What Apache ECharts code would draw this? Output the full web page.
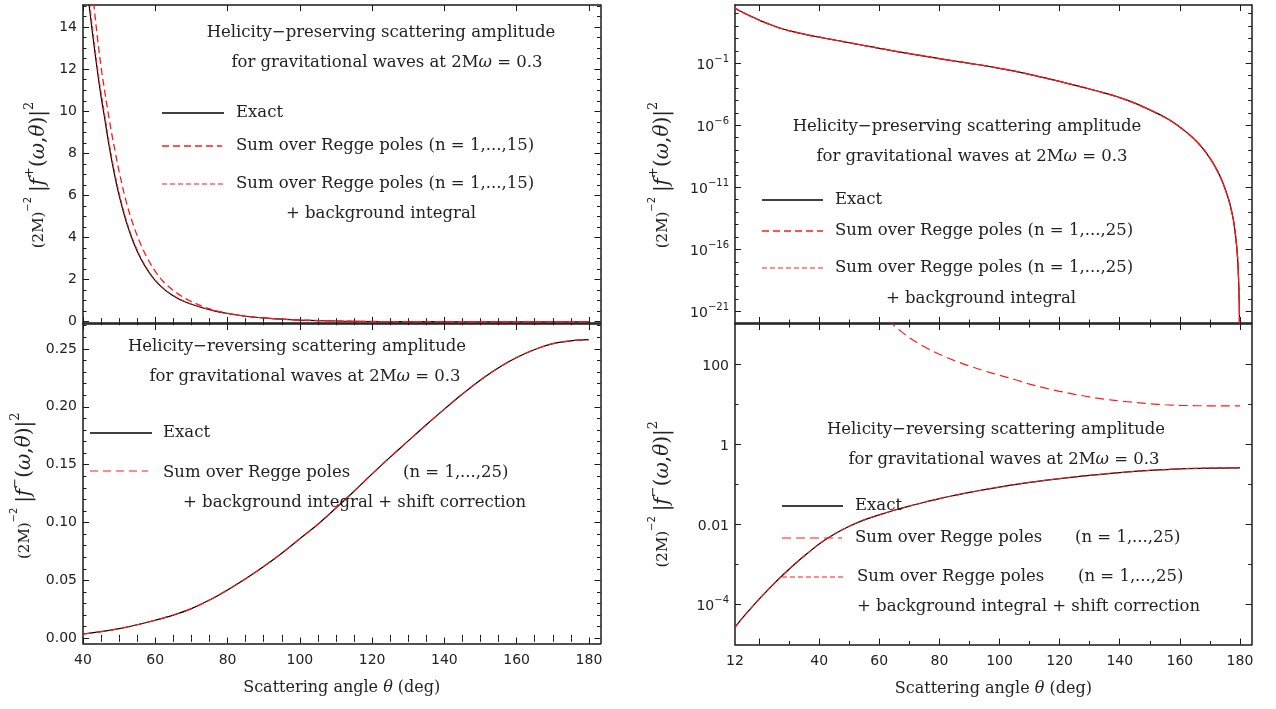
<!DOCTYPE html>
<html><head><meta charset="utf-8">
<script src="https://cdn.jsdelivr.net/npm/echarts@6/dist/echarts.min.js"></script>
<style>html,body{margin:0;padding:0;background:#fff}#c{width:1276px;height:709px}</style>
</head><body><div id="c"></div>
<script>
// ---------------- DATA ----------------
// Top-left: helicity-preserving, linear scale
const tlTheta = [40,41,42,43,44,45,46,47,48,49,50,52,54,56,58,60,62,64,66,68,70,73,76,80,85,90,95,100,110,120,130,140,150,160,170,180];
const tlExact = [17.9,16.1,14.6,13.2,11.9,10.7,9.66,8.58,7.62,6.76,6.0,4.73,3.75,2.99,2.41,1.95,1.61,1.34,1.13,0.965,0.83,0.665,0.53,0.39,0.26,0.18,0.12,0.08,0.035,0.012,0.004,0.001,0,0,0,0];
const tlRegge = [20.9,18.7,16.8,15.07,13.5,12.1,10.96,9.89,8.89,8.0,7.13,5.68,4.56,3.67,2.96,2.39,1.95,1.63,1.36,1.14,0.96,0.73,0.56,0.40,0.26,0.18,0.12,0.08,0.035,0.012,0.004,0.001,0,0,0,0];
const tlReggeBg = [18.2,16.4,14.9,13.45,12.1,10.9,9.85,8.75,7.77,6.9,6.12,4.83,3.83,3.05,2.46,1.99,1.64,1.36,1.15,0.98,0.84,0.675,0.535,0.395,0.26,0.18,0.12,0.08,0.035,0.012,0.004,0.001,0,0,0,0];

// Bottom-left: helicity-reversing, linear scale
const blTheta = [40,45,50,55,60,65,70,75,80,85,90,95,100,105,110,115,120,125,130,135,140,145,150,155,160,165,170,175,180];
const blExact = [0.0037,0.0057,0.0083,0.0117,0.0156,0.0200,0.0256,0.0330,0.0418,0.0515,0.0620,0.0735,0.0860,0.0985,0.1125,0.1270,0.1420,0.1565,0.1705,0.1845,0.1980,0.2110,0.2232,0.2338,0.2425,0.2495,0.2545,0.2570,0.2580];
const blReggeBgShift = [0.0037,0.0057,0.0083,0.0117,0.0156,0.0201,0.0256,0.0330,0.0418,0.0515,0.0620,0.0735,0.0860,0.0985,0.1125,0.1270,0.1420,0.1565,0.1705,0.1845,0.1980,0.2110,0.2232,0.2338,0.2425,0.2495,0.2545,0.2570,0.2580];

// Top-right: helicity-preserving, log scale
const trTheta = [12,14,16,18,21,25,28,32,36,40,44,48,52,56,60,65,70,75,80,85,90,95,100,105,110,115,120,125,130,135,140,145,150,155,158,161,164,167,170,172,174,176,177,178,179,179.5,179.8,180];
const trExact = [2690,1445,832,501,234,100,57.5,31.6,19.5,12.6,8.32,5.50,3.63,2.40,1.58,0.955,0.589,0.372,0.234,0.151,0.0977,0.0631,0.0389,0.0229,0.0126,6.61e-3,3.39e-3,1.70e-3,8.32e-4,3.89e-4,1.70e-4,6.03e-5,1.74e-5,4.37e-6,1.58e-6,4.68e-7,1.17e-7,2.09e-8,2.29e-9,3.55e-10,3.55e-11,1.58e-12,2.0e-13,1.26e-14,1.0e-16,6.3e-19,1.0e-21,1e-30];
const trRegge = [2720,1460,835,502,234,100,57.5,31.6,19.5,12.6,8.32,5.50,3.63,2.40,1.58,0.955,0.589,0.372,0.234,0.151,0.0977,0.0631,0.0389,0.0229,0.0126,6.61e-3,3.39e-3,1.70e-3,8.32e-4,3.89e-4,1.70e-4,6.03e-5,1.74e-5,4.37e-6,1.58e-6,4.68e-7,1.17e-7,2.09e-8,2.29e-9,3.55e-10,3.55e-11,1.58e-12,2.0e-13,1.26e-14,1.0e-16,6.3e-19,1.0e-21,1e-30];
const trReggeBg = [2690,1445,832,501,234,100,57.5,31.6,19.5,12.6,8.32,5.50,3.63,2.40,1.58,0.955,0.589,0.372,0.234,0.151,0.0977,0.0631,0.0389,0.0229,0.0126,6.61e-3,3.39e-3,1.70e-3,8.32e-4,3.89e-4,1.70e-4,6.03e-5,1.74e-5,4.37e-6,1.58e-6,4.68e-7,1.17e-7,2.09e-8,2.29e-9,3.55e-10,3.55e-11,1.58e-12,2.0e-13,1.26e-14,1.0e-16,6.3e-19,1.0e-21,1e-30];

// Bottom-right: helicity-reversing, log scale
const brTheta = [12,13,14,16,18,20,22,25,28,32,36,40,45,50,55,60,65,70,75,80,85,90,95,100,110,120,130,140,150,160,170,180];
const brExact = [2.69e-5,3.39e-5,4.17e-5,6.24e-5,9.23e-5,1.35e-4,1.95e-4,3.31e-4,5.50e-4,1.035e-3,1.86e-3,3.24e-3,5.62e-3,8.91e-3,0.0129,0.0172,0.0224,0.0285,0.0355,0.0437,0.0525,0.0624,0.0733,0.0851,0.111,0.138,0.166,0.195,0.221,0.243,0.254,0.257];
const brReggeBgShift = [2.69e-5,3.39e-5,4.17e-5,6.24e-5,9.23e-5,1.35e-4,1.95e-4,3.31e-4,5.50e-4,1.035e-3,1.86e-3,3.24e-3,5.62e-3,8.91e-3,0.0129,0.0172,0.0224,0.0285,0.0355,0.0437,0.0525,0.0624,0.0733,0.0851,0.111,0.138,0.166,0.195,0.221,0.243,0.254,0.257];
const brReggeTheta = [50,55,60,64,67,70,75,80,85,90,95,100,105,110,115,120,125,130,135,140,145,150,155,160,165,170,175,180];
const brRegge = [12600,4790,2000,1050,676,457,269,176,122,89.1,67.6,52.5,41.2,31.6,25.4,20.9,17.6,15.1,13.3,12.0,11.0,10.2,9.66,9.33,9.16,9.08,9.04,9.04];

// Tick labels
const leftXLabels = [40,60,80,100,120,140,160,180];
const rightXLabels = [12,40,60,80,100,120,140,160,180];
const rightXMajor = [20,40,60,80,100,120,140,160,180];
const tlYLabels = [0,2,4,6,8,10,12,14];
const blYLabels = [0,0.05,0.10,0.15,0.20,0.25];
const trYLabels = [1e-21,1e-16,1e-11,1e-6,1e-1];
const brYLabels = [1e-4,1e-2,1,100];

// ---------------- helpers ----------------
function steps(a, b, s, exclude) {
  const out = [];
  for (let i = 0; a + i * s <= b + 1e-9; i++) {
    const v = +(a + i * s).toFixed(6);
    if (!exclude || !exclude.some(e => Math.abs(e - v) < 1e-9)) out.push(v);
  }
  return out;
}
function decades(a, b, exclude) {
  const out = [];
  for (let e = a; e <= b; e++) {
    const v = Math.pow(10, e);
    if (!exclude.some(x => Math.abs(Math.log10(x) - e) < 1e-6)) out.push(v);
  }
  return out;
}
const FRAME = '#1a1a1a';
const SERIF = '"DejaVu Serif", serif';
const SANS = '"DejaVu Sans", sans-serif';
const RED = '#ff1a1a';
const FS = 16.5;

function supNum(v) {
  const e = Math.round(Math.log10(v));
  return '{b|10}{e|' + (e < 0 ? '\u2212' + (-e) : e) + '}';
}
const labelRich = {
  b: {fontFamily: SANS, fontSize: 14, color: '#222', lineHeight: 18, verticalAlign: 'bottom'},
  e: {fontFamily: SANS, fontSize: 10, color: '#222', lineHeight: 10, verticalAlign: 'top'}
};

function axisSet(dim, g, c) {
  const base = {type: c.type || 'value', gridIndex: g, min: c.min, max: c.max, splitLine: {show: false}, silent: true};
  if (c.type === 'log') base.logBase = 10;
  const posA = dim === 'x' ? 'bottom' : 'left';
  const posB = dim === 'x' ? 'top' : 'right';
  const line = {show: true, onZero: false, lineStyle: {color: FRAME, width: 1.5}};
  const tickStyle = {color: FRAME, width: 1};
  const main = Object.assign({}, base, {
    position: posA,
    axisLine: line,
    axisTick: {show: true, inside: true, length: 6, customValues: c.major, lineStyle: tickStyle},
    axisLabel: {show: !!c.labels, customValues: c.labels || [], margin: c.margin || 7,
      fontFamily: SANS, fontSize: 14, color: '#222', formatter: c.formatter, rich: labelRich},
    name: c.name || '', nameLocation: 'middle', nameGap: c.nameGap || 30, nameRotate: dim === 'y' ? 90 : 0,
    nameTextStyle: c.nameStyle || {}
  });
  const minor = Object.assign({}, base, {
    position: posA, axisLine: {show: false},
    axisTick: {show: true, inside: true, length: 3.5, customValues: c.minor, lineStyle: tickStyle},
    axisLabel: {show: false}
  });
  const mainB = Object.assign({}, base, {
    position: posB, axisLine: line,
    axisTick: {show: true, inside: true, length: 6, customValues: c.major, lineStyle: tickStyle},
    axisLabel: {show: false}
  });
  const minorB = Object.assign({}, base, {
    position: posB, axisLine: {show: false},
    axisTick: {show: true, inside: true, length: 3.5, customValues: c.minor, lineStyle: tickStyle},
    axisLabel: {show: false}
  });
  return [main, minor, mainB, minorB];
}

const yNameRich = {
  p: {fontFamily: SERIF, fontSize: 15, color: '#222', lineHeight: 26, verticalAlign: 'bottom', padding: [0,0,2,0]},
  s: {fontFamily: SANS, fontSize: 10, color: '#222', lineHeight: 12, verticalAlign: 'top'},
  v: {fontFamily: SERIF, fontSize: 20, color: '#222', lineHeight: 26, verticalAlign: 'bottom'},
  i: {fontFamily: SERIF, fontStyle: 'italic', fontSize: 20, color: '#222', lineHeight: 26, verticalAlign: 'bottom'},
  t: {fontFamily: SERIF, fontSize: 13, color: '#222', lineHeight: 12, verticalAlign: 'top'}
};
function yName(sign) {
  return '{p|(2M)}{s|\u22122}{p| }{v||}{i|f}{t|' + sign + '}{v|(}{i|\u03c9}{v|,}{i|\u03b8}{v|)|}{t|2}';
}
const xName = '{r|Scattering angle }{i|\u03b8}{r| (deg)}';
const xNameStyle = {rich: {
  r: {fontFamily: SERIF, fontSize: 16, color: '#222'},
  i: {fontFamily: SERIF, fontStyle: 'italic', fontSize: 16, color: '#222'}
}};

// axis configs
const leftX = (showLabels) => ({min: 40, max: 183.2, major: leftXLabels, minor: steps(40, 180, 5, leftXLabels),
  labels: showLabels ? leftXLabels : null, margin: 10, name: showLabels ? xName : '', nameGap: 36, nameStyle: xNameStyle});
const rightX = (showLabels) => ({min: 12, max: 183.9, major: rightXMajor, minor: steps(30, 170, 20),
  labels: showLabels ? rightXLabels : null, margin: 10, name: showLabels ? xName : '', nameGap: 36, nameStyle: xNameStyle});

const tlY = {min: -0.06, max: 15.05, major: tlYLabels, minor: steps(0, 15, 0.5, tlYLabels), labels: tlYLabels,
  margin: 6, formatter: v => String(Math.round(v)),
  name: yName('+'), nameGap: 34, nameStyle: {rich: yNameRich, padding: [0, 22, 0, 0]}};
const blY = {min: -0.0045, max: 0.2715, major: blYLabels, minor: steps(0, 0.27, 0.01, blYLabels), labels: blYLabels,
  margin: 6, formatter: v => v.toFixed(2),
  name: yName('\u2212'), nameGap: 48, nameStyle: {rich: yNameRich, padding: [0, 4, 0, 0]}};
const trY = {type: 'log', min: Math.pow(10, -21.93), max: Math.pow(10, 3.69), major: trYLabels, minor: decades(-21, 3, trYLabels),
  labels: trYLabels, margin: 6, formatter: v => supNum(v),
  name: yName('+'), nameGap: 62, nameStyle: {rich: yNameRich, padding: [0, 22, 0, 0]}};
const brY = {type: 'log', min: 1e-5, max: 1e3, major: brYLabels, minor: decades(-4, 2, brYLabels),
  labels: brYLabels, margin: 6,
  formatter: v => { const e = Math.round(Math.log10(v)); return e >= -2 ? '{b|' + String(+v.toPrecision(3)) + '}' : supNum(v); },
  name: yName('\u2212'), nameGap: 62, nameStyle: {rich: yNameRich, padding: [0, 20, 0, 0]}};

const grids = [
  {left: 83, top: 5, width: 517.5, height: 318},
  {left: 83, top: 324, width: 517.5, height: 319.5},
  {left: 735, top: 5, width: 516.7, height: 318},
  {left: 735, top: 324, width: 516.7, height: 320.5}
].map(g => Object.assign({containLabel: false, outerBoundsMode: 'none'}, g));

const xAxis = [].concat(axisSet('x', 0, leftX(false)), axisSet('x', 1, leftX(true)),
                        axisSet('x', 2, rightX(false)), axisSet('x', 3, rightX(true)));
const yAxis = [].concat(axisSet('y', 0, tlY), axisSet('y', 1, blY), axisSet('y', 2, trY), axisSet('y', 3, brY));

function zip(xs, ys) { return xs.map((x, i) => [x, ys[i]]); }
function line(g, name, xs, ys, color, width, dash, z) {
  return {type: 'line', name, xAxisIndex: g * 4, yAxisIndex: g * 4, data: zip(xs, ys),
    showSymbol: false, symbol: 'none', smooth: 0.35, clip: true, z: z || 2,
    lineStyle: {color, width, type: dash || 'solid'}, emphasis: {disabled: true}};
}
const series = [
  line(0, 'Exact', tlTheta, tlExact, '#000', 1.2),
  line(0, 'Sum over Regge poles (n = 1,...,15)', tlTheta, tlRegge, RED, 1.3, [7, 4], 3),
  line(0, 'Sum over Regge poles (n = 1,...,15) + background integral', tlTheta, tlReggeBg, RED, 1, [5, 3], 3),
  line(1, 'Exact', blTheta, blExact, '#000', 1.2),
  line(1, 'Sum over Regge poles (n = 1,...,25) + background integral + shift correction', blTheta, blReggeBgShift, RED, 1.2, [8, 5], 3),
  line(2, 'Exact', trTheta, trExact, '#000', 1.2),
  line(2, 'Sum over Regge poles (n = 1,...,25)', trTheta, trRegge, RED, 1.3, [7, 4], 3),
  line(2, 'Sum over Regge poles (n = 1,...,25) + background integral', trTheta, trReggeBg, RED, 1.2, [5, 3], 3),
  line(3, 'Exact', brTheta, brExact, '#000', 1.2),
  line(3, 'Sum over Regge poles (n = 1,...,25) ', brReggeTheta, brRegge, RED, 1.2, [9, 5], 3),
  line(3, 'Sum over Regge poles (n = 1,...,25) + background integral + shift correction', brTheta, brReggeBgShift, RED, 1.2, [5, 3], 3)
];

// ---------------- annotations ----------------
const annRich = {i: {fontFamily: SERIF, fontStyle: 'italic', fontSize: FS, fill: '#222'}};
function txt(x, y, text, align) {
  return {type: 'text', x, y, z: 10, silent: true,
    style: {text, font: FS + 'px ' + SERIF, fill: '#222', align: align || 'left', verticalAlign: 'middle', rich: annRich}};
}
function seg(x1, x2, y, color, width, dash) {
  return {type: 'line', z: 10, silent: true, shape: {x1, y1: y, x2, y2: y},
    style: {stroke: color, lineWidth: width, lineDash: dash || null}};
}
const T1p = 'Helicity\u2212preserving scattering amplitude';
const T1r = 'Helicity\u2212reversing scattering amplitude';
const T2 = 'for gravitational waves at 2M{i|\u03c9} = 0.3';
const graphic = [
  // top-left
  txt(381, 33, T1p, 'center'), txt(387, 63, T2, 'center'),
  seg(162, 224, 113, '#000', 1.3), txt(236, 113, 'Exact'),
  seg(162, 222, 146, RED, 1.3, [7, 4]), txt(236, 146, 'Sum over Regge poles (n = 1,...,15)'),
  seg(162, 224, 184, RED, 1, [5, 3]), txt(236, 184, 'Sum over Regge poles (n = 1,...,15)'),
  txt(381, 214, '+ background integral', 'center'),
  // top-right
  txt(967, 127, T1p, 'center'), txt(972, 157, T2, 'center'),
  seg(762, 823, 200, '#000', 1.3), txt(835, 200, 'Exact'),
  seg(762, 823, 231, RED, 1.3, [7, 4]), txt(835, 231, 'Sum over Regge poles (n = 1,...,25)'),
  seg(762, 823, 268, RED, 1.2, [5, 3]), txt(835, 268, 'Sum over Regge poles (n = 1,...,25)'),
  txt(981, 299, '+ background integral', 'center'),
  // bottom-left
  txt(297, 347, T1r, 'center'), txt(305, 377, T2, 'center'),
  seg(90, 152, 433, '#000', 1.3), txt(163, 433, 'Exact'),
  seg(90, 148, 471, RED, 1.2, [8, 5]), txt(163, 473, 'Sum over Regge poles'), txt(403, 473, '(n = 1,...,25)'),
  txt(183, 503, '+ background integral + shift correction'),
  // bottom-right
  txt(996, 430, T1r, 'center'), txt(1004, 460, T2, 'center'),
  seg(782, 843, 506, '#000', 1.3), txt(855, 506, 'Exact'),
  seg(782, 842, 538, RED, 1.2, [9, 5]), txt(855, 538, 'Sum over Regge poles'), txt(1075, 538, '(n = 1,...,25)'),
  seg(782, 843, 577, RED, 1.2, [5, 3]), txt(857, 577, 'Sum over Regge poles'), txt(1078, 577, '(n = 1,...,25)'),
  txt(857, 607, '+ background integral + shift correction')
];

const chart = echarts.init(document.getElementById('c'));
chart.setOption({
  animation: false,
  backgroundColor: '#fff',
  textStyle: {fontFamily: SANS},
  grid: grids, xAxis, yAxis, series, graphic
});
</script></body></html>
